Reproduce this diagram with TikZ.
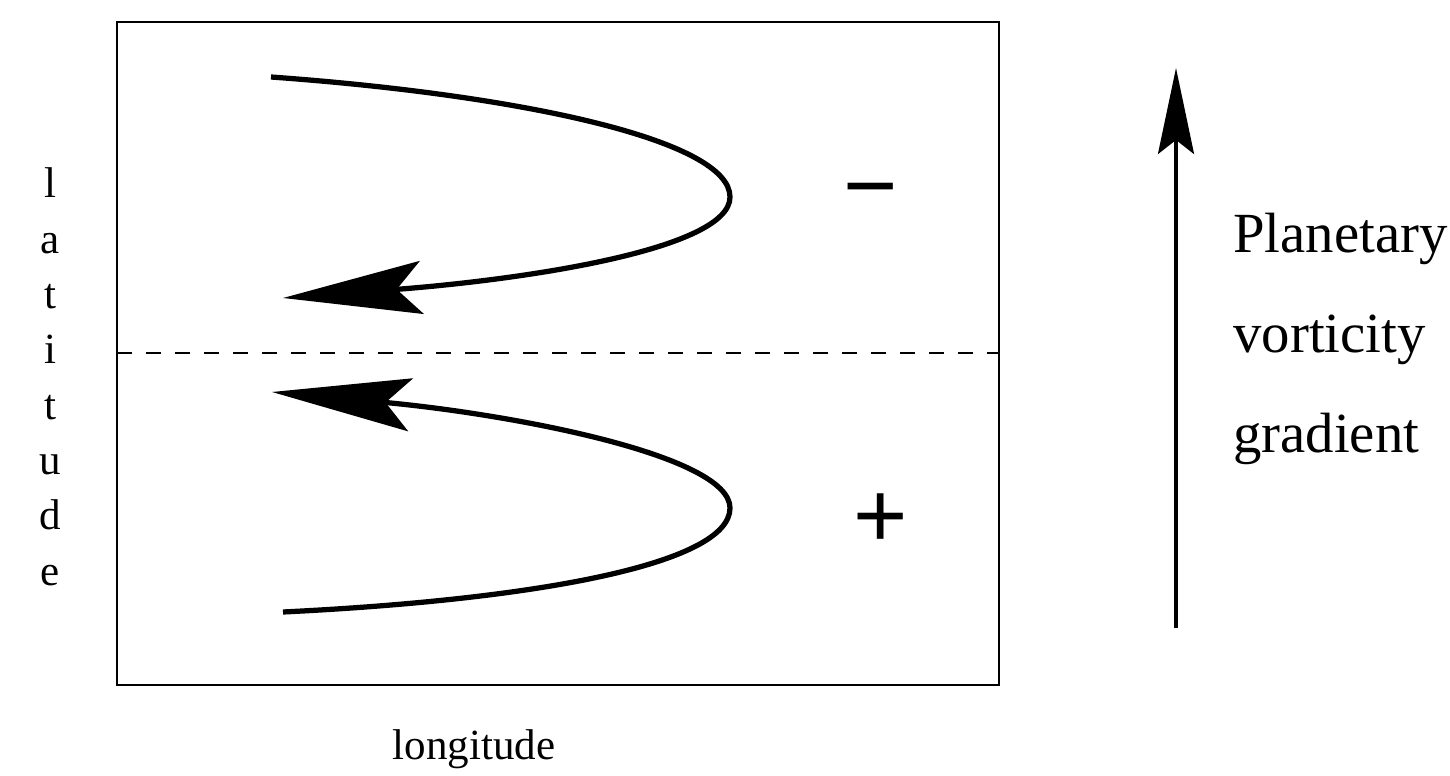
\documentclass[tikz,border=0pt]{standalone}
\usepackage{fontspec}
\setmainfont{Liberation Serif}
\setsansfont{Liberation Sans}
\usepackage{tikz}
\usetikzlibrary{arrows.meta}

\begin{document}
\begin{tikzpicture}[x=0.02cm, y=-0.02cm,
  flow/.style={line width=0.105cm, -{Stealth[length=2.78cm, width=1.06cm, inset=0.5cm]}},
  axislabel/.style={font=\fontsize{24.5}{29}\selectfont, anchor=base, inner sep=0pt},
  sign/.style={font=\sffamily\fontsize{53}{60}\selectfont, anchor=base, inner sep=0pt},
  pvtext/.style={font=\fontsize{32.3}{38}\selectfont, anchor=base west, inner sep=0pt}]
\useasboundingbox (0,0) rectangle (1450,776);
% domain
\draw[line width=0.035cm] (117,22) rectangle (999,685);
\draw[line width=0.04cm, dash pattern=on 0.3cm off 0.28cm] (117,353) -- (999,353);
% displaced parcels
\draw[flow] (271,77) .. controls (520,95) and (730,140) .. (730,197)
  .. controls (730,250) and (520,280) .. (283,298);
\draw[flow] (283,612) .. controls (530,600) and (730,565) .. (730,508)
  .. controls (730,455) and (510,414) .. (272,392);
\node[sign] (minus) at (871,217.5) {−};
\node[sign] (plus) at (881,547.5) {+};
% gradient arrow
\coordinate (gradbot) at (1176,628);
\coordinate (gradtop) at (1176,68);
\draw[line width=0.07cm, -{Stealth[length=1.72cm, width=0.72cm, inset=0.28cm]}] (gradbot) -- (gradtop);
\node[pvtext] (planetary) at (1233,253) {Planetary};
\node[pvtext] (vorticity) at (1233,353) {vorticity};
\node[pvtext] (gradient) at (1233,453) {gradient};
% axis labels
\node[axislabel] (lon) at (474,759) {longitude};
\foreach \ch [count=\i] in {l,a,t,i,t,u,d,e}
  \node[axislabel] (lat\i) at (50,{198+55.3*(\i-1)}) {\ch};
\end{tikzpicture}
\end{document}
